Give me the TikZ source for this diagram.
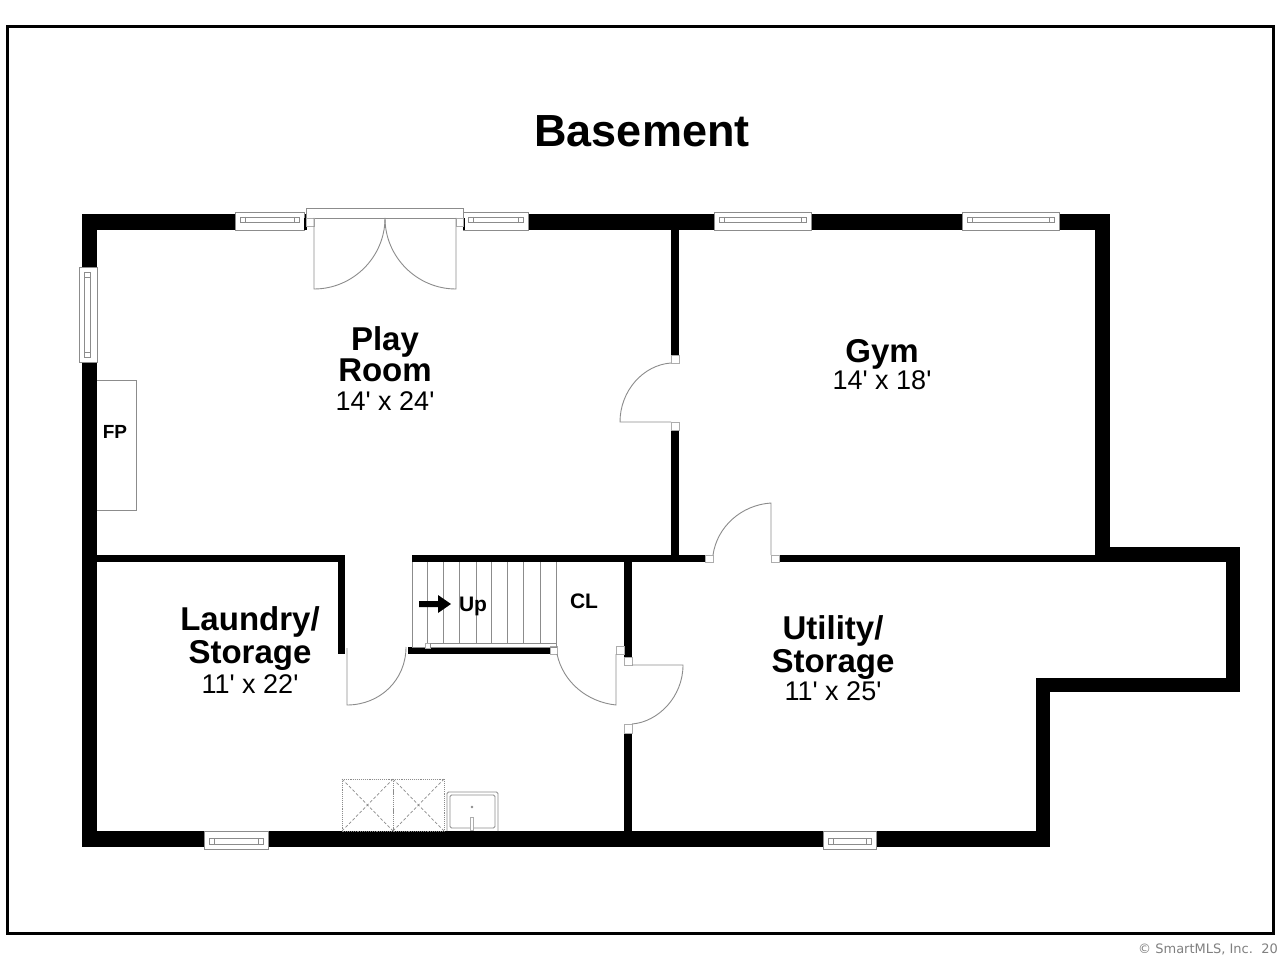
\documentclass[tikz,border=0pt]{standalone}
\usepackage{fontspec}
\setmainfont{Liberation Sans}
\newfontfamily\copyfont{DejaVu Sans}
\usetikzlibrary{positioning}
\definecolor{linegray}{gray}{0.55}
\definecolor{jambgray}{gray}{0.68}
\newcommand{\ft}{\textquotesingle}
\tikzset{
	wall/.style={fill=black},
	thinline/.style={draw=linegray, line width=0.9pt},
	winbox/.style={draw=linegray, line width=0.9pt, fill=white},
	jamb/.style={draw=jambgray, line width=0.8pt, fill=white},
	roomname/.style={font=\fontsize{33}{33}\selectfont\bfseries, inner sep=0pt},
	roomsize/.style={font=\fontsize{27}{27}\selectfont, inner sep=0pt},
	smalltag/.style={font=\fontsize{21}{21}\selectfont\bfseries, inner sep=0pt},
}
\begin{document}
\begin{tikzpicture}[x=1pt,y=-1pt]
	\useasboundingbox (0,0) rectangle (1280,960);
	\fill [white] (0,0) rectangle (1280,960);
	\draw [line width=3pt] (7,27) rectangle (1273,933);
	% outer walls
	\fill [wall] (82,214) rectangle (1110,230);
	\fill [wall] (82,214) rectangle (97,847);
	\fill [wall] (82,831) rectangle (1050,847);
	\fill [wall] (1095,214) rectangle (1110,562);
	\fill [wall] (1095,547) rectangle (1240,562);
	\fill [wall] (1226,547) rectangle (1240,692);
	\fill [wall] (1036,678) rectangle (1240,692);
	\fill [wall] (1036,678) rectangle (1050,847);
	% inner walls
	\fill [wall] (97,555) rectangle (345,562);
	\fill [wall] (338,555) rectangle (345,654);
	\fill [wall] (412,555) rectangle (705,562);
	\fill [wall] (779,555) rectangle (1095,562);
	\fill [wall] (671,230) rectangle (679,355);
	\fill [wall] (671,430) rectangle (679,555);
	\fill [wall] (624,562) rectangle (632,657);
	\fill [wall] (624,733) rectangle (632,831);
	\fill [wall] (408,647) rectangle (550,654);
	% windows along the walls
	\foreach \xa/\xb in {235/304,463/528,714/811,962/1059} {
		\draw [winbox] (\xa,212) rectangle (\xb,230);
		\draw [thinline] (\xa+5,217) rectangle (\xb-5,222);
		\draw [thinline] (\xa+10,217) -- (\xa+10,222) (\xb-10,217) -- (\xb-10,222);
	}
	\foreach \xa/\xb in {204/268,823/876} {
		\draw [winbox] (\xa,831) rectangle (\xb,849);
		\draw [thinline] (\xa+5,838) rectangle (\xb-5,844);
		\draw [thinline] (\xa+10,838) -- (\xa+10,844) (\xb-10,838) -- (\xb-10,844);
	}
	\draw [winbox] (79,267) rectangle (97,362);
	\draw [thinline] (84,272) rectangle (90,357);
	\draw [thinline] (84,277) -- (90,277) (84,352) -- (90,352);
	% double door
	\fill [white] (306,214) rectangle (463,231);
	\fill [wall] (304,218) rectangle (306.5,230);
	\fill [wall] (463,218) rectangle (464.5,230);
	\draw [winbox] (306,208) rectangle (463,218);
	\draw [jamb] (306.5,218) rectangle (314,226);
	\draw [jamb] (456,218) rectangle (463,226);
	\draw [thinline] (314,218) -- (314,289) .. controls (353,289) and (385,257) .. (385,218);
	\draw [thinline] (456,218) -- (456,289) .. controls (417,289) and (385,257) .. (385,218);
	% play room to gym door
	\draw [jamb] (671,355) rectangle (679,363);
	\draw [jamb] (671,422) rectangle (679,430);
	\draw [thinline] (671,422) -- (620,422) .. controls (620,391) and (643,365) .. (671,363);
	% gym to utility door
	\draw [jamb] (705,555) rectangle (713,562);
	\draw [jamb] (771,555) rectangle (779,562);
	\draw [thinline] (771,555) -- (771,503) .. controls (741,505) and (717,527) .. (713,555);
	% laundry door
	\draw [thinline] (347,648) -- (347,705) .. controls (380,705) and (406,680) .. (406,647);
	% closet door
	\draw [jamb] (550,646) rectangle (557,654);
	\draw [jamb] (616,646) rectangle (624,654);
	\draw [thinline] (616,654) -- (616,705) .. controls (587,702) and (563,682) .. (557,654);
	% utility door
	\draw [jamb] (624,657) rectangle (632,665);
	\draw [jamb] (624,724) rectangle (632,733);
	\draw [thinline] (632,665) -- (683,665) .. controls (683,697) and (658,722) .. (632,724);
	% stairs
	\draw [thinline] (412,562) -- (412,647) -- (427,647);
	\foreach \xt in {427,443,459.5,476,491.5,507.5,523.5,540,556} {
		\draw [thinline] (\xt,562) -- (\xt,643);
	}
	\draw [jamb] (425,643) rectangle (430,648);
	\draw [thinline] (430,643) rectangle (556,647);
	\fill [black] (419,601) -- (438,601) -- (438,595) -- (451,604) -- (438,613) -- (438,607) -- (419,607) -- cycle;
	% fireplace
	\draw [thinline] (97,380) -- (136,380) -- (136,510) -- (97,510);
	% washer and dryer
	\draw [draw=linegray, line width=0.9pt, densely dotted] (342,779) rectangle (393,831);
	\draw [draw=linegray, line width=0.9pt, densely dotted] (393,779) rectangle (444,831);
	\draw [draw=linegray, line width=0.7pt, densely dashed] (342,779) -- (393,831) (342,831) -- (393,779);
	\draw [draw=linegray, line width=0.7pt, densely dashed] (393,779) -- (444,831) (393,831) -- (444,779);
	% sink
	\draw [thinline, rounded corners=1.5pt] (447,831) -- (447,792) -- (498,792) -- (498,831);
	\draw [thinline, rounded corners=1.5pt] (450,795) rectangle (495,828);
	\fill [linegray] (472,807) circle (1.3pt);
	\draw [jamb] (470.5,817) rectangle (473.5,830);
	% labels
	\node (title) [font=\fontsize{45}{45}\selectfont\bfseries, inner sep=0pt] at (642,131) {Basement};
	\node (playa) [roomname] at (385,342) {Play};
	\node (playb) [roomname] at (385,370) {Room};
	\node (playsize) [roomsize] at (385,401) {14\ft{} x 24\ft};
	\node (gym) [roomname] at (882,354) {Gym};
	\node (gymsize) [roomsize] at (882,380.5) {14\ft{} x 18\ft};
	\node (laundrya) [roomname] at (250,622) {Laundry/};
	\node (laundryb) [roomname] at (250,655) {Storage};
	\node (laundrysize) [roomsize] at (250,684) {11\ft{} x 22\ft};
	\node (utilitya) [roomname] at (833,631) {Utility/};
	\node (utilityb) [roomname] at (833,664) {Storage};
	\node (utilitysize) [roomsize] at (833,691) {11\ft{} x 25\ft};
	\node (fp) [smalltag, font=\fontsize{19}{19}\selectfont\bfseries] at (115,432) {FP};
	\node (cl) [smalltag] at (584,601) {CL};
	\node (up) [smalltag] at (473,606) {Up};
	\node (copy) [anchor=west, inner sep=0pt, text=black!50, font=\copyfont\fontsize{13}{13}\selectfont] at (1138,949) {© SmartMLS, Inc.\ \ 20};
\end{tikzpicture}
\end{document}
